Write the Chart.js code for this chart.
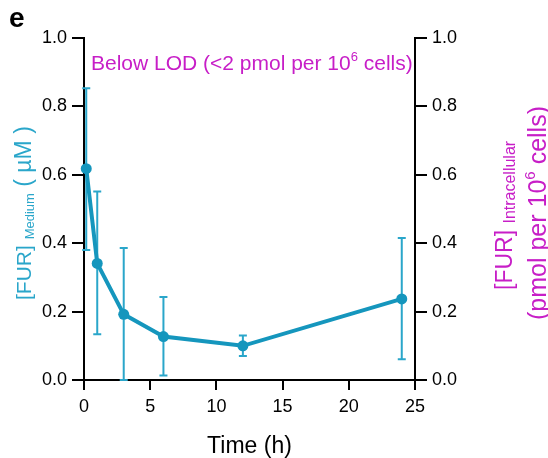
<!DOCTYPE html>
<html>
<head>
<meta charset="utf-8">
<script src="https://cdn.jsdelivr.net/npm/chart.js@4.4.1/dist/chart.umd.min.js"></script>
<style>
  html, body { margin: 0; padding: 0; background: #fff; }
  #wrap { width: 548px; height: 458px; }
</style>
</head>
<body>
<div id="wrap"><canvas id="furChart" width="548" height="458"></canvas></div>
<script>
// data
const timeH = [0.17, 1, 3, 6, 12, 24];
const furMedium = [0.618, 0.341, 0.192, 0.127, 0.10, 0.237];
const errUpper = [0.853, 0.551, 0.386, 0.243, 0.13, 0.415];
const errLower = [0.38, 0.134, 0.0, 0.013, 0.07, 0.061];
const xTicks = [0, 5, 10, 15, 20, 25];
const yTicks = [0.0, 0.2, 0.4, 0.6, 0.8, 1.0];

const TEAL = '#1596bd';
const TEAL_ERR = '#2aa6ca';
const MAGENTA = '#c71ec7';
const FONT = '"Liberation Sans", Arial, sans-serif';

// draw a run of text pieces (different sizes / baseline shifts) one after another
function drawRun(ctx, parts, x, y, color) {
    ctx.fillStyle = color;
    ctx.textBaseline = 'alphabetic';
    ctx.textAlign = 'left';
    let cx = x;
    parts.forEach(p => {
        ctx.font = (p.bold ? 'bold ' : '') + p.size + 'px ' + FONT;
        ctx.fillText(p.text, cx, y + (p.dy || 0));
        cx += ctx.measureText(p.text).width;
    });
}

const errorBars = {
    id: 'errorBars',
    beforeDatasetsDraw(chart) {
        const { ctx, scales } = chart;
        ctx.save();
        ctx.strokeStyle = TEAL_ERR;
        ctx.lineWidth = 2;
        timeH.forEach((t, i) => {
            const px = scales.x.getPixelForValue(t);
            const top = scales.y.getPixelForValue(errUpper[i]);
            const bot = scales.y.getPixelForValue(errLower[i]);
            ctx.beginPath();
            ctx.moveTo(px, top); ctx.lineTo(px, bot);
            ctx.moveTo(px - 4, top); ctx.lineTo(px + 4, top);
            ctx.moveTo(px - 4, bot); ctx.lineTo(px + 4, bot);
            ctx.stroke();
        });
        ctx.restore();
    }
};

const labels = {
    id: 'labels',
    afterDraw(chart) {
        const { ctx, chartArea } = chart;
        ctx.save();
        // panel letter
        drawRun(ctx, [{ text: 'e', size: 28, bold: true }], 9, 27, '#000');

        // LOD note
        drawRun(ctx, [
            { text: 'Below LOD (<2 pmol per 10', size: 21 },
            { text: '6', size: 13, dy: -9 },
            { text: ' cells)', size: 21 }
        ], 91, 70, MAGENTA);

        // x title
        ctx.font = '23px ' + FONT;
        ctx.fillStyle = '#000';
        ctx.textAlign = 'center';
        ctx.fillText('Time (h)', (chartArea.left + chartArea.right) / 2, 453);

        // left title
        ctx.save();
        ctx.translate(31, 300);
        ctx.rotate(-Math.PI / 2);
        drawRun(ctx, [
            { text: '[FUR] ', size: 21 },
            { text: 'Medium', size: 13, dy: 3 },
            { text: ' ( µM )', size: 23 }
        ], 0, 0, TEAL_ERR);
        ctx.restore();

        // right titles
        ctx.save();
        ctx.translate(512, 290);
        ctx.rotate(-Math.PI / 2);
        drawRun(ctx, [
            { text: '[FUR] ', size: 23 },
            { text: 'Intracellular', size: 16, dy: 3 }
        ], 0, 0, MAGENTA);
        ctx.restore();

        ctx.save();
        ctx.translate(546, 320);
        ctx.rotate(-Math.PI / 2);
        drawRun(ctx, [
            { text: '(pmol per 10', size: 25 },
            { text: '6', size: 15, dy: -11 },
            { text: ' cells)', size: 25 }
        ], 0, 0, MAGENTA);
        ctx.restore();

        ctx.restore();
    }
};

function yAxis(position, width) {
    return {
        type: 'linear',
        position: position,
        min: 0,
        max: 1,
        afterBuildTicks: axis => { axis.ticks = yTicks.map(v => ({ value: v })); },
        afterFit: axis => { axis.width = width; },
        border: { display: true, color: '#000', width: 2 },
        grid: { drawOnChartArea: false, drawTicks: true, tickLength: 12, color: '#000', lineWidth: 2 },
        ticks: {
            color: '#000',
            padding: 5,
            font: { family: FONT, size: 18 },
            callback: v => v.toFixed(1)
        }
    };
}

new Chart(document.getElementById('furChart'), {
    type: 'line',
    data: {
        datasets: [{
            data: timeH.map((t, i) => ({ x: t, y: furMedium[i] })),
            borderColor: TEAL,
            backgroundColor: TEAL,
            borderWidth: 4,
            pointRadius: 5.5,
            pointBackgroundColor: TEAL,
            pointBorderWidth: 0,
            tension: 0,
            clip: false
        }]
    },
    options: {
        responsive: false,
        animation: false,
        layout: { padding: { top: 38, left: 0, right: 0, bottom: 0 } },
        plugins: { legend: { display: false }, tooltip: { enabled: false } },
        scales: {
            x: {
                type: 'linear',
                min: 0,
                max: 25,
                afterBuildTicks: axis => { axis.ticks = xTicks.map(v => ({ value: v })); },
                afterFit: axis => { axis.height = 78; },
                border: { display: true, color: '#000', width: 2 },
                grid: { drawOnChartArea: false, drawTicks: true, tickLength: 10, color: '#000', lineWidth: 2 },
                ticks: { color: '#000', padding: 6, maxRotation: 0, font: { family: FONT, size: 18 } }
            },
            y: yAxis('left', 84),
            y1: yAxis('right', 133)
        }
    },
    plugins: [errorBars, labels]
});
</script>
</body>
</html>
